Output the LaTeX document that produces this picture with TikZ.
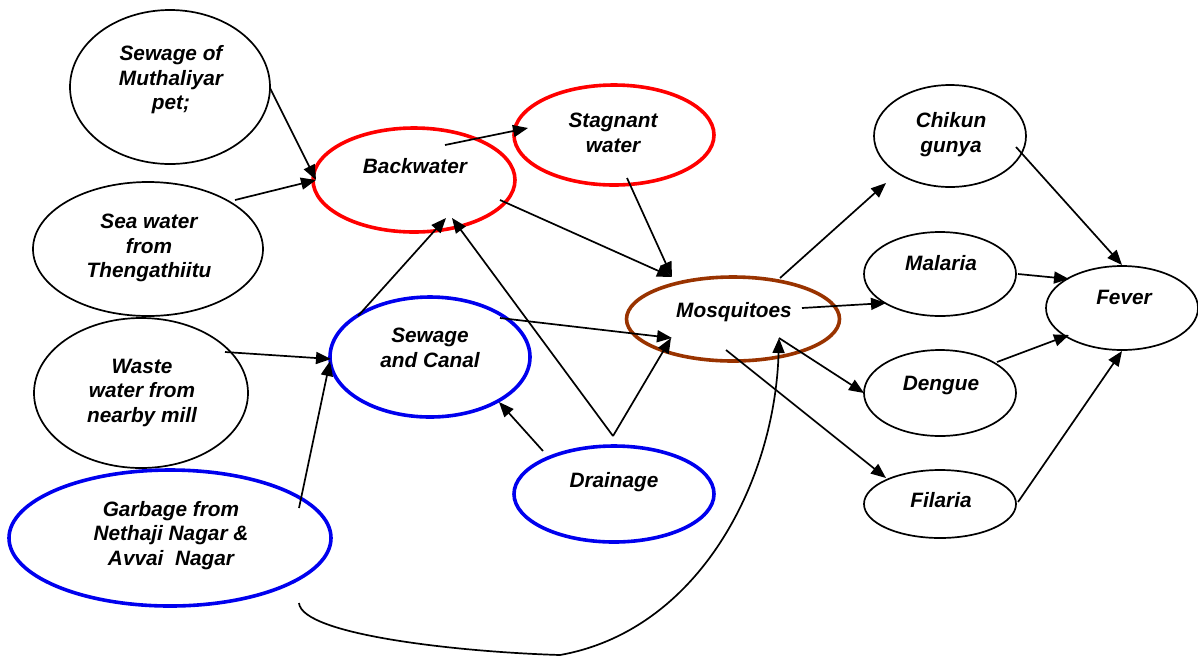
\documentclass[tikz,border=0pt]{standalone}
\usepackage{fontspec}
\setmainfont{Liberation Sans}
\usetikzlibrary{shapes.geometric,arrows.meta}
\definecolor{myred}{RGB}{255,0,0}
\definecolor{myblue}{RGB}{0,0,238}
\definecolor{mybrown}{RGB}{153,51,0}
\begin{document}
\begin{tikzpicture}[x=1pt,y=-1pt,
  ell/.style={ellipse,draw=black,line width=1.7pt,inner sep=0pt},
  redell/.style={ell,draw=myred,line width=3.6pt},
  blueell/.style={ell,draw=myblue,line width=3.6pt},
  brownell/.style={ell,draw=mybrown,line width=3.6pt},
  txt/.style={font=\fontsize{20.8}{24.5}\selectfont\bfseries\itshape,align=center,inner sep=0pt},
  arr/.style={-{Triangle[length=15pt,width=12pt]},line width=1.7pt}
]
\useasboundingbox (0,0) rectangle (1198,657);
\fill[white] (0,0) rectangle (1198,657);

% ellipses
\node[ell,minimum width=200pt,minimum height=154pt] (muth) at (170,87) {};
\node[ell,minimum width=230pt,minimum height=134pt] (sea) at (148,249) {};
\node[redell,minimum width=202pt,minimum height=104pt] (back) at (414,180) {};
\node[redell,minimum width=200pt,minimum height=100pt] (stag) at (614,135) {};
\node[ell,minimum width=152pt,minimum height=102pt] (chik) at (950,136) {};
\node[ell,minimum width=152pt,minimum height=84pt] (mal) at (940,274) {};
\node[ell,minimum width=152pt,minimum height=84pt] (fever) at (1122,308) {};
\node[brownell,minimum width=213pt,minimum height=84pt] (mosq) at (733,319) {};
\node[blueell,minimum width=200pt,minimum height=120pt] (sewc) at (430,357) {};
\node[ell,minimum width=214pt,minimum height=150pt] (waste) at (141,393) {};
\node[blueell,minimum width=322pt,minimum height=136pt] (garb) at (170,538) {};
\node[blueell,minimum width=200pt,minimum height=96pt] (drain) at (614,494) {};
\node[ell,minimum width=152pt,minimum height=86pt] (deng) at (940,393) {};
\node[ell,minimum width=152pt,minimum height=68pt] (fil) at (940,504) {};

% texts
\node[txt] (muth-t) at (171,80) {Sewage of\\Muthaliyar\\pet;};
\node[txt] (sea-t) at (149,248) {Sea water\\from\\Thengathiitu};
\node[txt] (back-t) at (415,166) {Backwater};
\node[txt] (stag-t) at (613,133) {Stagnant\\water};
\node[txt] (chik-t) at (951,134.5) {Chikun\\gunya};
\node[txt] (mal-t) at (941,263) {Malaria};
\node[txt] (fever-t) at (1124,297) {Fever};
\node[txt] (mosq-t) at (734,312) {Mosquitoes};
\node[txt] (sewc-t) at (430,348) {Sewage\\and Canal};
\node[txt] (waste-t) at (142,392.5) {Waste\\water from\\nearby mill};
\node[txt] (garb-t) at (171,535.5) {Garbage from\\Nethaji Nagar \&\\Avvai\ \ Nagar};
\node[txt] (drain-t) at (614,482) {Drainage};
\node[txt] (deng-t) at (941,385) {Dengue};
\node[txt] (fil-t) at (941,500) {Filaria};

% connector end points
\coordinate (a1) at (270,88);   \coordinate (a2) at (316,180);
\coordinate (b1) at (235,200);
\coordinate (c1) at (445,145);  \coordinate (c2) at (528,128);
\coordinate (d1) at (500,200);  \coordinate (d2) at (672,277);
\coordinate (e1) at (627,178);
\coordinate (f1) at (358,316);  \coordinate (f2) at (446,218);
\coordinate (g1) at (613,436);  \coordinate (g2) at (452,218);
\coordinate (h2) at (671,338);
\coordinate (i1) at (500,318);  \coordinate (i2) at (672,338);
\coordinate (j1) at (225,352);  \coordinate (j2) at (331,359);
\coordinate (k1) at (299,508);  \coordinate (k2) at (330,361);
\coordinate (l1) at (543,451);  \coordinate (l2) at (499,402);
\coordinate (m1) at (299,603);  \coordinate (m2) at (560,655);  \coordinate (m3) at (779,338);
\coordinate (n1) at (780,278);  \coordinate (n2) at (886,183);
\coordinate (o1) at (802,308);  \coordinate (o2) at (886,303);
\coordinate (p2) at (864,393);
\coordinate (q1) at (726,350);  \coordinate (q2) at (886,478);
\coordinate (r1) at (1016,147); \coordinate (r2) at (1122,265);
\coordinate (s1) at (1018,274); \coordinate (s2) at (1069,279);
\coordinate (t1) at (997,362);  \coordinate (t2) at (1069,335);
\coordinate (u1) at (1018,502); \coordinate (u2) at (1122,351);

% connectors
\draw[arr] (a1) -- (a2);
\draw[arr] (b1) -- (a2);
\draw[arr] (c1) -- (c2);
\draw[arr] (d1) -- (d2);
\draw[arr] (e1) -- (d2);
\draw[arr] (f1) -- (f2);
\draw[arr] (g1) -- (g2);
\draw[arr] (g1) -- (h2);
\draw[arr] (i1) -- (i2);
\draw[arr] (j1) -- (j2);
\draw[arr] (k1) -- (k2);
\draw[arr] (l1) -- (l2);
\draw[arr] (m1) .. controls (302,635) and (460,652) .. (m2)
               .. controls (700,630) and (775,480) .. (m3);
\draw[arr] (n1) -- (n2);
\draw[arr] (o1) -- (o2);
\draw[arr] (m3) -- (p2);
\draw[arr] (q1) -- (q2);
\draw[arr] (r1) -- (r2);
\draw[arr] (s1) -- (s2);
\draw[arr] (t1) -- (t2);
\draw[arr] (u1) -- (u2);
\end{tikzpicture}
\end{document}
